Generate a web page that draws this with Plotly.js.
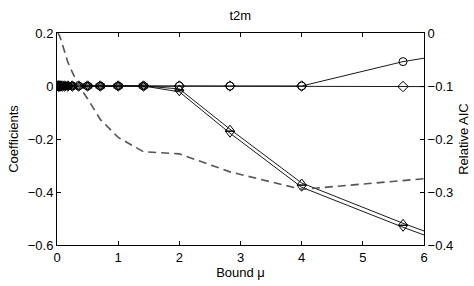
<!DOCTYPE html>
<html>
<head>
<meta charset="utf-8">
<script src="https://cdn.plot.ly/plotly-3.0.1.min.js"></script>
<style>html,body{margin:0;padding:0;background:#fff;}#chart{width:474px;height:286px;}</style>
</head>
<body>
<div id="chart"></div>
<script>
// Bound values mu (2^(k/2)); last one lies beyond the axis range
var bounds = [0.0156, 0.0221, 0.03125, 0.0442, 0.0625, 0.0884, 0.125, 0.177, 0.25, 0.354, 0.5, 0.707, 1, 1.414, 2, 2.828, 4, 5.657, 8];

// Coefficient paths (left axis)
var coefCircle   = [0,0,0,0,0,0,0,0,0,0,0,0,0,0,0,0,0,0.092,0.18];
var coefDiamond  = [0,0,0,0,0,0,0,0,0,0,0,0,0,0,0,0,0,-0.002,-0.004];
var coefTriUp    = [0,0,0,0,0,0,0,0,0,0,0,0,0,0,-0.011,-0.163,-0.366,-0.518,-0.717];
var coefTriDown  = [0,0,0,0,0,0,0,0,0,0,0,0,0,0,-0.022,-0.178,-0.382,-0.533,-0.732];

// Relative AIC (right axis)
var relAIC = [0.0,-0.001,-0.003,-0.006,-0.012,-0.022,-0.037,-0.055,-0.074,-0.099,-0.124,-0.163,-0.197,-0.224,-0.228,-0.262,-0.295,-0.277,-0.255];

var xTickVals = [0,1,2,3,4,5,6];

function coefTrace(y, sym) {
  return {
    x: bounds, y: y, type: 'scatter', mode: 'lines+markers',
    line: {color: '#000', width: 0.9},
    marker: {symbol: sym, size: 8, color: '#000', line: {color: '#000', width: 1}},
    yaxis: 'y', showlegend: false, hoverinfo: 'skip'
  };
}

var traces = [
  {
    x: bounds, y: relAIC, type: 'scatter', mode: 'lines',
    line: {color: '#555', width: 1.6, dash: '8px,5px'},
    yaxis: 'y2', showlegend: false, hoverinfo: 'skip'
  },
  coefTrace(coefCircle, 'circle-open'),
  coefTrace(coefDiamond, 'diamond-open'),
  coefTrace(coefTriUp, 'triangle-up-open'),
  coefTrace(coefTriDown, 'triangle-down-open')
];

var fontFam = 'Liberation Sans, Arial, sans-serif';

var layout = {
  width: 474, height: 286,
  margin: {l: 57, r: 50, t: 33, b: 41},
  paper_bgcolor: '#fff', plot_bgcolor: '#fff',
  font: {family: fontFam, size: 13, color: '#000'},
  title: {text: 't2m', font: {family: fontFam, size: 13, color: '#000'}, x: 0.507, xanchor: 'center', y: 0.947, yanchor: 'middle'},
  xaxis: {
    range: [0, 6], tickvals: xTickVals, ticks: 'inside', ticklen: 4, tickcolor: '#000',
    showline: true, linecolor: '#000', linewidth: 1, mirror: 'ticks',
    showgrid: false, zeroline: false,
    title: {text: 'Bound μ', standoff: 4, font: {size: 13}}
  },
  yaxis: {
    range: [-0.6, 0.2], dtick: 0.2, tick0: 0, ticks: 'inside', ticklen: 4, tickcolor: '#000',
    showline: true, linecolor: '#000', linewidth: 1,
    showgrid: false, zeroline: false,
    title: {text: 'Coefficients', standoff: 6, font: {size: 13}}
  },
  yaxis2: {
    range: [-0.4, 0], dtick: 0.1, tick0: 0, ticks: 'inside', ticklen: 4, tickcolor: '#000',
    overlaying: 'y', side: 'right',
    showline: true, linecolor: '#000', linewidth: 1,
    showgrid: false, zeroline: false,
    title: {text: 'Relative AIC', standoff: 6, font: {size: 13}}
  }
};

Plotly.newPlot('chart', traces, layout, {staticPlot: true, displayModeBar: false});
</script>
</body>
</html>
